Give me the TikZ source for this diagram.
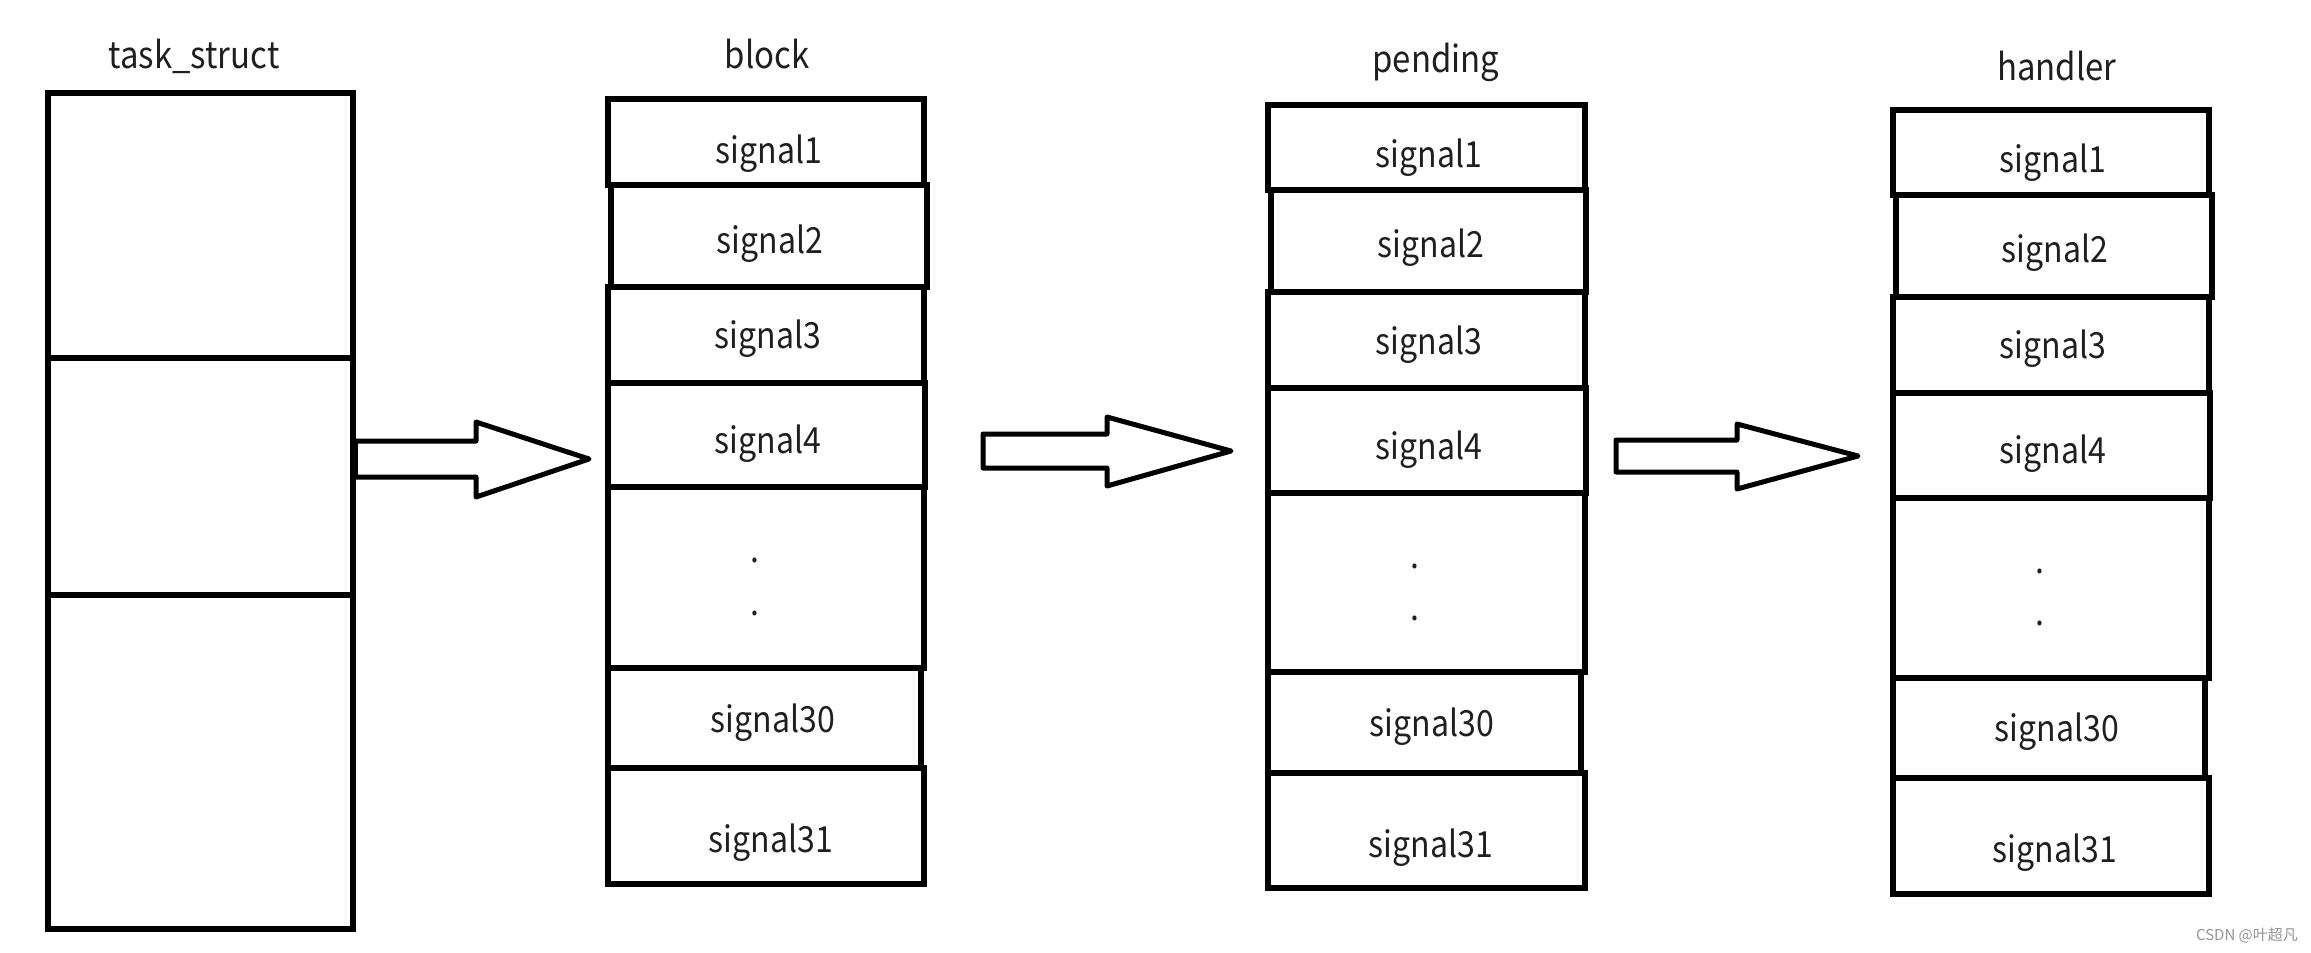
\documentclass[tikz,border=0pt]{standalone}
\usepackage{fontspec}
\setmainfont[FakeStretch=0.89]{Noto Sans CJK SC}
\newfontfamily\wmfont{Noto Sans CJK SC}
\begin{document}
\begin{tikzpicture}[x=1pt,y=-1pt,
  cellbox/.style={draw=black, line width=5.5pt, rectangle, inner sep=0pt, outer sep=0pt},
  lbl/.style={anchor=base, inner sep=0pt, text=black!88, font=\fontsize{36}{40}\selectfont},
  ttl/.style={anchor=base, inner sep=0pt, text=black!88, font=\fontsize{37}{42}\selectfont},
  bigarr/.style={draw=black, line width=5pt, fill=white, line join=round},
  wm/.style={inner sep=0pt, text=black!42, font=\wmfont\fontsize{15}{17}\selectfont}
]
\useasboundingbox (0,0) rectangle (2311,953);
\newcommand\cellat[5]{\node[cellbox, minimum width={#4-#2}, minimum height={#5-#3}] (#1) at ({(#2+#4)/2},{(#3+#5)/2}) {};}

% titles
\node[ttl] (tTask) at (194,68) {task\_struct};
\node[ttl] (tBlock) at (767,68) {block};
\node[ttl] (tPend) at (1436,72) {pending};
\node[ttl] (tHand) at (2057,80) {handler};

% task_struct
\cellat{T1}{48}{93}{353}{358}
\cellat{T2}{48}{358}{353}{595}
\cellat{T3}{48}{595}{353}{929}

% block
\cellat{B1}{608}{99}{924}{185}
\cellat{B3}{608}{287}{924}{383}
\cellat{B5}{608}{487}{924}{668}
\cellat{B7}{608}{768}{924}{884}
\cellat{B2}{611}{185}{927}{287}
\cellat{B4}{608}{383}{925}{487}
\cellat{B6}{608}{668}{921}{768}

% pending
\cellat{P1}{1268}{105}{1585}{190}
\cellat{P3}{1268}{292}{1585}{388}
\cellat{P5}{1268}{493}{1585}{672}
\cellat{P7}{1268}{773}{1585}{888}
\cellat{P2}{1271}{190}{1586}{292}
\cellat{P4}{1268}{388}{1586}{493}
\cellat{P6}{1268}{672}{1581}{773}

% handler
\cellat{H1}{1893}{110}{2209}{195}
\cellat{H3}{1893}{297}{2209}{393}
\cellat{H5}{1893}{498}{2209}{678}
\cellat{H7}{1893}{778}{2209}{894}
\cellat{H2}{1896}{195}{2212}{297}
\cellat{H4}{1893}{393}{2210}{498}
\cellat{H6}{1893}{678}{2205}{778}

% block labels
\node[lbl] (b1t) at (769,163) {signal1};
\node[lbl] (b2t) at (770,253) {signal2};
\node[lbl] (b3t) at (768,348) {signal3};
\node[lbl] (b4t) at (768,453) {signal4};
\node[lbl] (b5a) at (755,562) {.};
\node[lbl] (b5b) at (755,615) {.};
\node[lbl] (b6t) at (773,732) {signal30};
\node[lbl] (b7t) at (771,852) {signal31};

% pending labels
\node[lbl] (p1t) at (1429,167) {signal1};
\node[lbl] (p2t) at (1431,257) {signal2};
\node[lbl] (p3t) at (1429,354) {signal3};
\node[lbl] (p4t) at (1429,459) {signal4};
\node[lbl] (p5a) at (1415,568) {.};
\node[lbl] (p5b) at (1415,620) {.};
\node[lbl] (p6t) at (1432,736) {signal30};
\node[lbl] (p7t) at (1431,857) {signal31};

% handler labels
\node[lbl] (h1t) at (2053,172) {signal1};
\node[lbl] (h2t) at (2055,262) {signal2};
\node[lbl] (h3t) at (2053,358) {signal3};
\node[lbl] (h4t) at (2053,463) {signal4};
\node[lbl] (h5a) at (2040,573) {.};
\node[lbl] (h5b) at (2040,625) {.};
\node[lbl] (h6t) at (2057,741) {signal30};
\node[lbl] (h7t) at (2055,862) {signal31};

% block arrows
\draw[bigarr] (355,441) -- (476,441) -- (476,422) -- (589,459) -- (476,497) -- (476,477) -- (355,477) -- cycle;
\fill[black] (351,441) rectangle (358,477);
\draw[bigarr] (983,434) -- (1107,434) -- (1107,417) -- (1231,451) -- (1107,486) -- (1107,468) -- (983,468) -- cycle;
\draw[bigarr] (1616,440) -- (1737,440) -- (1737,424) -- (1858,456) -- (1737,489) -- (1737,472) -- (1616,472) -- cycle;

% watermark
\node[wm] (wmark) at (2247,935) {CSDN @叶超凡};
\end{tikzpicture}
\end{document}
